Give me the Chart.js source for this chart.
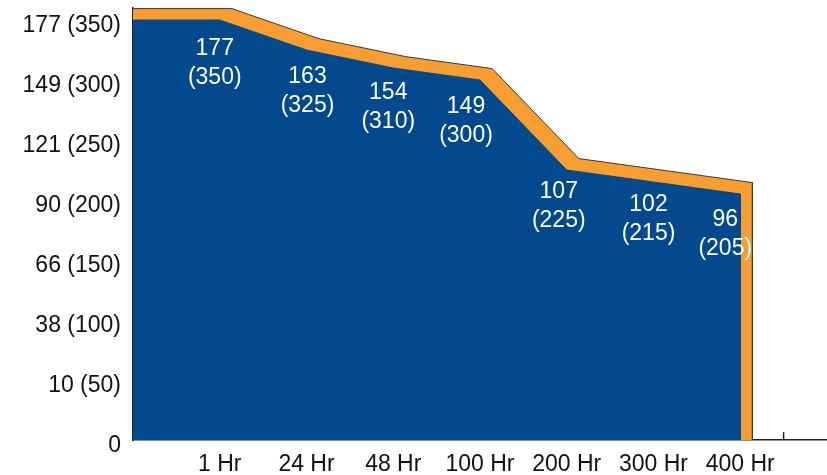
<!DOCTYPE html>
<html>
<head>
<meta charset="utf-8">
<script src="https://cdn.jsdelivr.net/npm/chart.js@4.4.0/dist/chart.umd.min.js"></script>
<style>
  html, body { margin: 0; padding: 0; background: #fff; }
  #wrap { width: 827px; height: 475px; position: relative; }
</style>
</head>
<body>
<div id="wrap"><canvas id="grafico"></canvas></div>
<script>
// categorias e valores (F e C)
const categories = ['1 Hr', '24 Hr', '48 Hr', '100 Hr', '200 Hr', '300 Hr', '400 Hr'];
const tempF = [350, 325, 310, 300, 225, 215, 205];
const tempC = [177, 163, 154, 149, 107, 102, 96];
const yTicksF = [0, 50, 100, 150, 200, 250, 300, 350];
const yTicksC = [0, 10, 38, 66, 90, 121, 149, 177];

const BLUE = '#024a8d';
const ORANGE = '#f89e31';
const FONT = "'Liberation Sans', Arial, Helvetica, sans-serif";

// label nudges (px) so the text sits like in the original
const labelDx = [-5, 1, -5, -14, -8, -5, -15];
const labelDy = [29, 27, 25, 27, 22, 23, 26];

// offset of the orange "shadow" band, in data units
const bandDx = 0.14;
const bandDy = 9.5;

// main area: starts at the left axis at the first level, drops to 0 after the last point
const bluePts = [{ x: 0, y: tempF[0] }]
  .concat(tempF.map((v, i) => ({ x: i + 1, y: v })))
  .concat([{ x: tempF.length, y: 0 }]);

const orangePts = bluePts.map((p, i) => ({
  x: i === 0 ? p.x : p.x + bandDx,
  y: p.y === 0 ? 0 : p.y + bandDy
}));

// white value labels under each point
const valueLabels = {
  id: 'valueLabels',
  afterDatasetsDraw(chart) {
    const ctx = chart.ctx;
    const meta = chart.getDatasetMeta(0);
    ctx.save();
    ctx.fillStyle = '#ffffff';
    ctx.font = '23px ' + FONT;
    ctx.textAlign = 'center';
    ctx.textBaseline = 'middle';
    tempF.forEach((f, i) => {
      const el = meta.data[i + 1];
      const x = el.x + labelDx[i];
      const y = el.y + labelDy[i];
      ctx.fillText(String(tempC[i]), x, y);
      ctx.fillText('(' + f + ')', x, y + 29);
    });
    ctx.restore();
  }
};

// small tick above the x axis, right of the last category
const extraTick = {
  id: 'extraTick',
  afterDraw(chart) {
    const x = chart.scales.x;
    const px = x.getPixelForValue(categories.length + 0.5);
    const ctx = chart.ctx;
    ctx.save();
    ctx.strokeStyle = '#222';
    ctx.lineWidth = 1.5;
    ctx.beginPath();
    ctx.moveTo(px, x.top - 8);
    ctx.lineTo(px, x.top);
    ctx.stroke();
    ctx.restore();
  }
};

const ctxG = document.getElementById('grafico').getContext('2d');
new Chart(ctxG, {
  type: 'line',
  data: {
    datasets: [
      {
        label: 'Temp',
        data: bluePts,
        backgroundColor: BLUE,
        borderColor: BLUE,
        borderWidth: 1,
        fill: 'origin',
        tension: 0,
        pointRadius: 0
      },
      {
        label: 'Band',
        data: orangePts,
        backgroundColor: ORANGE,
        borderColor: '#3a3a3a',
        borderWidth: 1,
        fill: 'origin',
        tension: 0,
        pointRadius: 0
      }
    ]
  },
  options: {
    responsive: true,
    maintainAspectRatio: false,
    animation: false,
    layout: { padding: { top: 8, left: 0, right: 0, bottom: 0 } },
    plugins: {
      legend: { display: false },
      tooltip: { enabled: false }
    },
    scales: {
      x: {
        type: 'linear',
        min: 0,
        max: categories.length + 1,
        grid: { display: false, drawTicks: false },
        border: { display: true, color: '#222', width: 1.5 },
        afterBuildTicks: s => { s.ticks = categories.map((c, i) => ({ value: i + 1 })); },
        afterFit: s => { s.height = 35; s.paddingLeft = 0; s.paddingRight = 0; },
        ticks: {
          padding: 11,
          maxRotation: 0,
          autoSkip: false,
          color: '#111',
          font: { family: FONT, size: 23 },
          callback: v => categories[v - 1]
        }
      },
      y: {
        min: 0,
        max: 360,
        grid: { display: false, drawTicks: false },
        border: { display: true, color: '#222', width: 1.5 },
        afterBuildTicks: s => { s.ticks = yTicksF.map(v => ({ value: v })); },
        afterFit: s => { s.width = 133; s.paddingTop = 0; s.paddingBottom = 0; },
        ticks: {
          padding: 12,
          labelOffset: 6,
          color: '#111',
          font: { family: FONT, size: 23 },
          callback: v => {
            const i = yTicksF.indexOf(v);
            return v === 0 ? '0' : yTicksC[i] + ' (' + v + ')';
          }
        }
      }
    }
  },
  plugins: [valueLabels, extraTick]
});
</script>
</body>
</html>
